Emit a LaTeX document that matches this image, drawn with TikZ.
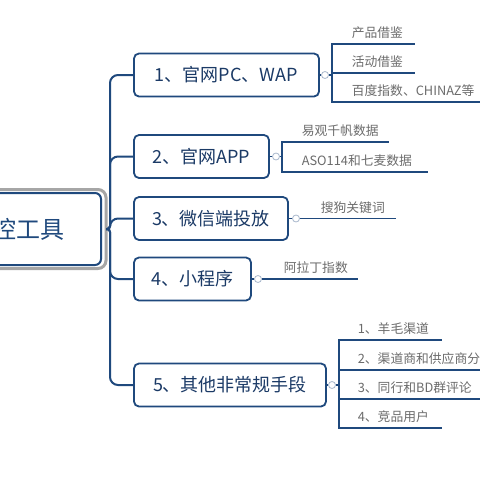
\documentclass[tikz,border=0pt]{standalone}
\usepackage{fontspec}
\setmainfont{Noto Sans CJK SC}
\usepackage{tikz}
\usetikzlibrary{positioning}

\definecolor{topicblue}{HTML}{1F497D}
\definecolor{topictext}{HTML}{1B3A66}
\definecolor{leafgray}{HTML}{6B6B6B}
\definecolor{framegray}{HTML}{A6A6A6}
\definecolor{foldgray}{HTML}{A9B8CC}

\begin{document}
\begin{tikzpicture}[x=1pt, y=-1pt,
    link/.style={draw=topicblue, line width=2pt},
    leafline/.style={draw=topicblue, line width=1.6pt},
    rootframe/.style={draw=framegray, line width=3pt, fill=white, rounded corners=8pt, minimum width=178pt, minimum height=79pt, outer sep=0pt},
    rootbox/.style={draw=topicblue, line width=2pt, fill=white, rounded corners=6pt, minimum width=168pt, minimum height=72pt, text=topicblue, font=\fontsize{24}{27}\selectfont},
    topic/.style={draw=topicblue, line width=1.8pt, fill=white, rounded corners=5pt, minimum height=43pt, inner sep=0pt, outer sep=0pt, anchor=west, text=topictext, font=\fontsize{18}{20}\selectfont},
    fold/.style={draw=foldgray, fill=white, circle, line width=0.8pt, minimum size=7pt, inner sep=0pt},
    leaf/.style={anchor=south east, inner xsep=0pt, inner ysep=4pt, align=left, text=leafgray, text depth=2pt, font=\fontsize{12.8}{14}\selectfont}]

  \useasboundingbox (0,0) rectangle (480,480);
  \clip (0,0) rectangle (480,480);

  % root
  \draw (17,229) node[rootframe] (rf) {};
  \draw (17,229) node[rootbox] (r) {监控工具};
  \coordinate (t) at (110,229);

  % main topics
  \draw (134,75) node[topic, minimum width=185pt] (b1) {1、官网PC、WAP};
  \draw (134,156.5) node[topic, minimum width=135pt] (b2) {2、官网APP};
  \draw (134,218.5) node[topic, minimum width=154pt] (b3) {3、微信端投放};
  \draw (134,279) node[topic, minimum width=117pt] (b4) {4、小程序};
  \draw (134,385) node[topic, minimum width=192pt] (b5) {5、其他非常规手段};

  \foreach \b in {b1,b2,b3,b4,b5}
    \draw[link, rounded corners=3pt] (rf) -- (t) [rounded corners=8pt] |- (\b);

  % fold markers
  \draw (325,75) node[fold] (c1) {};
  \draw (276,156.5) node[fold] (c2) {};
  \draw (296,218.5) node[fold] (c3) {};
  \draw (258,279) node[fold] (c4) {};
  \draw (332,385) node[fold] (c5) {};

  \coordinate (k1) at (332,75);
  \coordinate (k2) at (282,156.5);
  \coordinate (k5) at (339,385);

  % subtopics
  \draw (415,44) node[leaf, text width=63pt] (l11) {产品借鉴};
  \draw (415,73) node[leaf, text width=63pt] (l12) {活动借鉴};
  \draw (500,102) node[leaf, text width=148pt] (l13) {百度指数、CHINAZ等};

  \draw (389,142) node[leaf, text width=87pt] (l21) {易观千帆数据};
  \draw (428,172) node[leaf, text width=126pt] (l22) {ASO114和七麦数据};

  \draw (396,218.5) node[leaf, text width=75pt] (l31) {搜狗关键词};

  \draw (358,279) node[leaf, text width=74pt] (l41) {阿拉丁指数};

  \draw (442,340) node[leaf, text width=84pt] (l51) {1、羊毛渠道};
  \draw (500,370) node[leaf, text width=142pt] (l52) {2、渠道商和供应商分};
  \draw (500,399) node[leaf, text width=142pt] (l53) {3、同行和BD群评论};
  \draw (442,428) node[leaf, text width=84pt] (l54) {4、竞品用户};

  \draw[leafline] (b1) -- (c1) -- (k1);
  \foreach \l in {l11,l12,l13}
    \draw[leafline] (k1) |- (\l.south east);

  \draw[leafline] (b2) -- (c2) -- (k2);
  \foreach \l in {l21,l22}
    \draw[leafline] (k2) |- (\l.south east);

  \draw[leafline] (b3) -- (c3) -- (l31.south east);
  \draw[leafline] (b4) -- (c4) -- (l41.south east);

  \draw[leafline] (b5) -- (c5) -- (k5);
  \foreach \l in {l51,l52,l53,l54}
    \draw[leafline] (k5) |- (\l.south east);

\end{tikzpicture}
\end{document}
